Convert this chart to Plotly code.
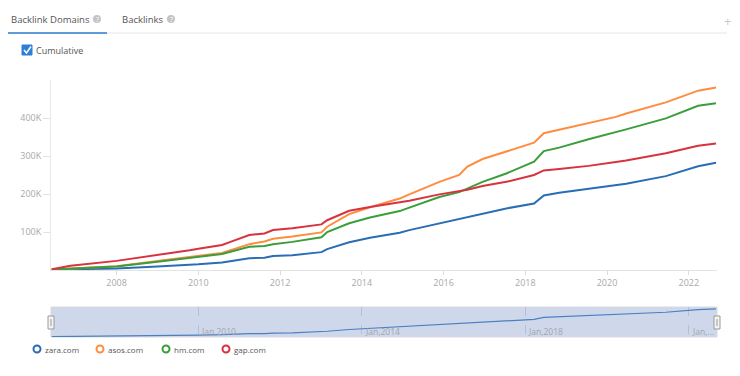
import plotly.graph_objects as go

dates = ["2006-06-01", "2006-11-15", "2008-01-01", "2009-01-01", "2009-10-15", "2010-01-01",
         "2010-08-01", "2010-10-15", "2011-04-01", "2011-08-15", "2011-10-30", "2012-04-20",
         "2013-01-05", "2013-02-25", "2013-09-10", "2014-03-15", "2014-12-05", "2015-03-01",
         "2015-11-25", "2016-05-20", "2016-08-01", "2016-12-15", "2017-07-15", "2018-03-20",
         "2018-06-15", "2018-10-30", "2019-07-20", "2020-03-20", "2020-06-20", "2021-06-10",
         "2022-03-25", "2022-09-01"]

zara = [1, 2, 4, 9, 13, 15, 20, 24, 31, 32, 37, 39, 47, 55, 73, 85, 98, 105, 123, 133, 138, 147,
        162, 175, 196, 203, 214, 224, 227, 247, 273, 282]
asos = [1, 4, 10, 24, 34, 37, 45, 52, 68, 75, 82, 88, 99, 114, 147, 165, 188, 199, 232, 250, 272,
        292, 311, 335, 360, 369, 386, 403, 412, 441, 472, 480]
hm = [1, 3, 9, 22, 32, 35, 42, 48, 61, 63, 68, 74, 86, 100, 123, 138, 155, 164, 192, 205, 215,
      232, 254, 285, 313, 322, 344, 362, 370, 399, 432, 439]
gap = [2, 11, 24, 39, 52, 56, 66, 74, 92, 96, 105, 110, 120, 131, 156, 166, 178, 182, 199, 207,
       211, 221, 232, 250, 262, 266, 274, 284, 288, 307, 327, 333]

series_names = ["zara.com", "asos.com", "hm.com", "gap.com"]
series_values = [zara, asos, hm, gap]
colors = ["#2a6db5", "#ff8c3f", "#3a9e3a", "#d8323e"]

y_tickvals = [100000, 200000, 300000, 400000]
y_ticktext = ["100K", "200K", "300K", "400K"]
x_tickvals = ["2008-01-01", "2010-01-01", "2012-01-01", "2014-01-01", "2016-01-01",
              "2018-01-01", "2020-01-01", "2022-01-01"]
x_ticktext = ["2008", "2010", "2012", "2014", "2016", "2018", "2020", "2022"]
nav_tickvals = ["2010-01-01", "2014-01-01", "2018-01-01", "2022-01-01"]
nav_labels = ["Jan,2010", "Jan,2014", "Jan,2018", "Jan,..."]

# The page body has an 8px margin, so the figure is drawn at (8, 8) in the window.
OFF = 8
W, H = 724, 360
def px(x):
    return (x - OFF) / W
def py(y):
    return 1 - (y - OFF) / H

xrange = ["2006-05-25", "2022-09-10"]

fig = go.Figure()
for name, vals, c in zip(series_names, series_values, colors):
    fig.add_trace(go.Scatter(x=dates, y=[v * 1000 for v in vals], mode="lines", name=name,
                             line=dict(color=c, width=2), showlegend=False,
                             xaxis="x", yaxis="y"))

# navigator line (zara)
fig.add_trace(go.Scatter(x=dates, y=[v * 1000 for v in zara], mode="lines",
                         line=dict(color="#4a7fc0", width=1.2), showlegend=False,
                         xaxis="x2", yaxis="y2"))

fnt = "Open Sans, Noto Sans, sans-serif"
fig.update_layout(
    width=W, height=H, margin=dict(l=0, r=0, t=0, b=0),
    paper_bgcolor="white", plot_bgcolor="rgba(0,0,0,0)",
    font=dict(family=fnt, size=10, color="#999"),
    xaxis=dict(domain=[px(51), px(717)], range=xrange, type="date",
               tickvals=x_tickvals, ticktext=x_ticktext, showgrid=False,
               showline=True, linecolor="#e3e3e3", ticks="outside", ticklen=4,
               tickcolor="#dcdcdc", tickfont=dict(size=9, color="#a8a8a8"), zeroline=False),
    yaxis=dict(domain=[py(270), py(80)], range=[0, 500000], tickvals=y_tickvals,
               ticktext=y_ticktext, showgrid=False, showline=True, linecolor="#e8e8e8",
               ticks="outside", ticklen=7, tickcolor="#e3e3e3",
               tickfont=dict(size=9, color="#a8a8a8"), zeroline=False),
    xaxis2=dict(domain=[px(51), px(717)], range=xrange, type="date", anchor="y2",
                tickvals=nav_tickvals, showticklabels=False, showgrid=True,
                gridcolor="#b5bfd6", griddash="dash", gridwidth=1, showline=False,
                zeroline=False),
    yaxis2=dict(domain=[py(337), py(307)], range=[-3000, 300000], anchor="x2",
                showticklabels=False, showgrid=False, zeroline=False, showline=False),
)

shapes = []
# tab separator
shapes.append(dict(type="line", xref="paper", yref="paper", x0=0, x1=px(727),
                   y0=py(33), y1=py(33), line=dict(color="#e6e6e6", width=1)))
shapes.append(dict(type="line", xref="paper", yref="paper", x0=0, x1=px(107),
                   y0=py(33), y1=py(33), line=dict(color="#5c9bd8", width=2)))
# question icons
for cx in (97, 171):
    shapes.append(dict(type="circle", xref="paper", yref="paper", x0=px(cx - 4), x1=px(cx + 4),
                       y0=py(23), y1=py(15), fillcolor="#c4c4c4", line=dict(width=0)))
# checkbox
shapes.append(dict(type="rect", xref="paper", yref="paper", x0=px(22), x1=px(32),
                   y0=py(55), y1=py(45), fillcolor="#2e7fd8", line=dict(color="#2e7fd8", width=1)))
shapes.append(dict(type="path", xref="paper", yref="paper",
                   path=f"M {px(24)},{py(50)} L {px(26.5)},{py(53)} L {px(31)},{py(46.5)}",
                   line=dict(color="white", width=1.5)))
# navigator background
shapes.append(dict(type="rect", xref="paper", yref="paper", x0=px(51), x1=px(717),
                   y0=py(337), y1=py(307), fillcolor="#cfd8eb", line=dict(color="#d6d9e0", width=1),
                   layer="below"))
# handles
for hx in (51, 717):
    shapes.append(dict(type="rect", xref="paper", yref="paper", x0=px(hx - 3), x1=px(hx + 3),
                       y0=py(329), y1=py(316), fillcolor="#f4f4f4",
                       line=dict(color="#9a9a9a", width=1)))
    shapes.append(dict(type="line", xref="paper", yref="paper", x0=px(hx), x1=px(hx),
                       y0=py(326), y1=py(319), line=dict(color="#9a9a9a", width=1)))
# legend circles
leg_x = [37, 100, 166, 226]
for lx, c in zip(leg_x, colors):
    shapes.append(dict(type="circle", xref="paper", yref="paper", x0=px(lx - 3.5), x1=px(lx + 3.5),
                       y0=py(352.5), y1=py(345.5), line=dict(color=c, width=2)))

annotations = []
annotations.append(dict(text="Backlink Domains", x=px(9), y=py(20), xref="paper", yref="paper",
                        xanchor="left", yanchor="middle", showarrow=False,
                        font=dict(size=9.5, color="#555")))
annotations.append(dict(text="Backlinks", x=px(120), y=py(20), xref="paper", yref="paper",
                        xanchor="left", yanchor="middle", showarrow=False,
                        font=dict(size=9.5, color="#555")))
for cx in (97, 171):
    annotations.append(dict(text="?", x=px(cx), y=py(19), xref="paper", yref="paper",
                            xanchor="center", yanchor="middle", showarrow=False,
                            font=dict(size=7, color="white")))
annotations.append(dict(text="+", x=px(727), y=py(21), xref="paper", yref="paper",
                        xanchor="center", yanchor="middle", showarrow=False,
                        font=dict(size=13, color="#c8c8c8")))
annotations.append(dict(text="Cumulative", x=px(34), y=py(50), xref="paper", yref="paper",
                        xanchor="left", yanchor="middle", showarrow=False,
                        font=dict(size=9, color="#555")))
for tv, lab in zip(nav_tickvals, nav_labels):
    annotations.append(dict(text=lab, x=tv, y=py(331), xref="x2", yref="paper",
                            xanchor="left", yanchor="middle", showarrow=False, xshift=1,
                            font=dict(size=8.5, color="#a0a4ae")))
for lx, name in zip(leg_x, series_names):
    annotations.append(dict(text=name, x=px(lx + 6), y=py(349), xref="paper", yref="paper",
                            xanchor="left", yanchor="middle", showarrow=False,
                            font=dict(size=8, color="#555")))

fig.update_layout(shapes=shapes, annotations=annotations)
fig.write_html("out.html")
